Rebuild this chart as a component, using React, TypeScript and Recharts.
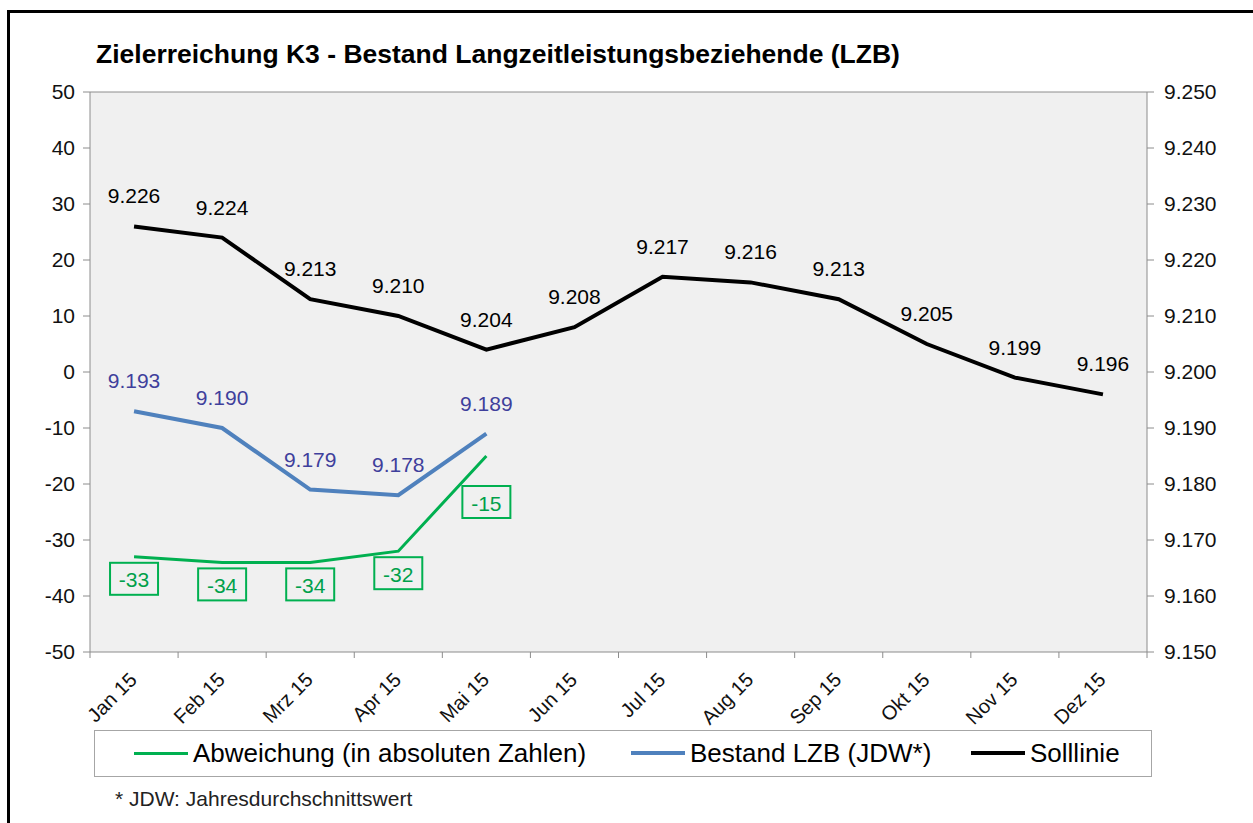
import { LineChart, Line, XAxis, YAxis, CartesianGrid, ReferenceLine, LabelList } from "recharts";

const months = ["Jan 15", "Feb 15", "Mrz 15", "Apr 15", "Mai 15", "Jun 15", "Jul 15", "Aug 15", "Sep 15", "Okt 15", "Nov 15", "Dez 15"];
const abweichung = [-33, -34, -34, -32, -15];
const bestand = [9193, 9190, 9179, 9178, 9189];
const solllinie = [9226, 9224, 9213, 9210, 9204, 9208, 9217, 9216, 9213, 9205, 9199, 9196];
const leftTicks = [-50, -40, -30, -20, -10, 0, 10, 20, 30, 40, 50];
const rightTicks = [9150, 9160, 9170, 9180, 9190, 9200, 9210, 9220, 9230, 9240, 9250];

const data = months.map((m, i) => ({
  month: m,
  abw: abweichung[i] ?? null,
  bestand: bestand[i] ?? null,
  soll: solllinie[i],
}));

const FONT = '"Liberation Sans", Arial, sans-serif';
const AXIS = "#8c8c8c";
const GREEN = "#00b050";
const BLUE = "#4f81bd";

const fmtK = (v: number) => (v / 1000).toFixed(3);

// x ticks sit on category borders, like Excel
function XTick(props: any) {
  const { x, y, payload, index } = props;
  const half = payload?.offset || 44;
  return (
    <g>
      <line x1={x - half} x2={x - half} y1={y} y2={y + 6} stroke={AXIS} />
      {index === months.length - 1 && <line x1={x + half} x2={x + half} y1={y} y2={y + 6} stroke={AXIS} />}
      <text
        x={x + 4}
        y={y + 29}
        transform={`rotate(-45 ${x + 4} ${y + 29})`}
        textAnchor="end"
        fontSize={20}
        fontFamily={FONT}
        fill="#111"
      >
        {payload.value}
      </text>
    </g>
  );
}

const topLabel = (color: string) => (props: any) => {
  const { x, y, value } = props;
  if (value == null) return null;
  return (
    <text x={x} y={y - 23} textAnchor="middle" fontSize={21} fontFamily={FONT} fill={color}>
      {fmtK(value)}
    </text>
  );
};

function BoxLabel(props: any) {
  const { x, y, value, index } = props;
  if (value == null) return null;
  const top = y + (index === 4 ? 30 : 6);
  return (
    <g>
      <rect x={x - 24} y={top} width={48} height={32} fill="none" stroke={GREEN} strokeWidth={2} />
      <text x={x} y={top + 17} textAnchor="middle" dominantBaseline="central" fontSize={21} fontFamily={FONT} fill="#00a04a">
        {value}
      </text>
    </g>
  );
}

const legendItems = [
  { label: "Abweichung (in absoluten Zahlen)", color: GREEN, w: 3, left: 133 },
  { label: "Bestand LZB (JDW*)", color: BLUE, w: 4, left: 630 },
  { label: "Solllinie", color: "#000", w: 4, left: 970 },
];

export default function App() {
  return (
    <div style={{ position: "absolute", left: 0, top: 0, width: 1253, height: 823, background: "#fff", overflow: "hidden", fontFamily: FONT }}>
      <div style={{ position: "absolute", left: 7, top: 10, width: 1300, height: 900, border: "3px solid #000", boxSizing: "border-box" }} />
      <div style={{ position: "absolute", left: 96, top: 39, fontSize: 26.5, fontWeight: "bold", color: "#000", whiteSpace: "nowrap" }}>
        Zielerreichung K3 - Bestand Langzeitleistungsbeziehende (LZB)
      </div>
      <div style={{ position: "absolute", left: 0, top: 0 }}>
        <LineChart width={1253} height={823} data={data} margin={{ top: 92, right: 0, bottom: 91, left: 0 }}>
          <CartesianGrid horizontal={false} vertical={false} fill="#f0f0f0" />
          <XAxis
            dataKey="month"
            scale="band"
            height={80}
            tickLine={false}
            tickSize={0}
            tickMargin={0}
            stroke={AXIS}
            interval={0}
            tick={<XTick />}
          />
          <YAxis
            yAxisId="left"
            width={90}
            domain={[-50, 50]}
            ticks={leftTicks}
            stroke={AXIS}
            tickSize={7}
            tickMargin={8}
            tick={{ fill: "#111", fontSize: 21, fontFamily: FONT }}
          />
          <YAxis
            yAxisId="right"
            orientation="right"
            width={106}
            domain={[9150, 9250]}
            ticks={rightTicks}
            stroke={AXIS}
            tickSize={7}
            tickMargin={10}
            tickFormatter={fmtK}
            tick={{ fill: "#111", fontSize: 21, fontFamily: FONT }}
          />
          <ReferenceLine yAxisId="left" y={50} stroke={AXIS} />
          <Line yAxisId="right" dataKey="soll" stroke="#000" strokeWidth={4} dot={false} isAnimationActive={false}>
            <LabelList dataKey="soll" content={topLabel("#000")} />
          </Line>
          <Line yAxisId="right" dataKey="bestand" stroke={BLUE} strokeWidth={4} dot={false} isAnimationActive={false}>
            <LabelList dataKey="bestand" content={topLabel("#3f3f9c")} />
          </Line>
          <Line yAxisId="left" dataKey="abw" stroke={GREEN} strokeWidth={3} dot={false} isAnimationActive={false}>
            <LabelList dataKey="abw" content={BoxLabel} />
          </Line>
        </LineChart>
      </div>
      <div style={{ position: "absolute", left: 94, top: 730, width: 1058, height: 47, border: "1.5px solid #a6a6a6", boxSizing: "border-box" }}>
        {legendItems.map((it) => (
          <div key={it.label} style={{ position: "absolute", left: it.left - 94, top: 0, height: 44, display: "flex", alignItems: "center", whiteSpace: "nowrap" }}>
            <span style={{ display: "inline-block", width: 54, height: it.w, background: it.color, marginRight: 5 }} />
            <span style={{ fontSize: 26, color: "#000" }}>{it.label}</span>
          </div>
        ))}
      </div>
      <div style={{ position: "absolute", left: 115, top: 787, fontSize: 21, color: "#222", whiteSpace: "nowrap" }}>
        * JDW: Jahresdurchschnittswert
      </div>
    </div>
  );
}
